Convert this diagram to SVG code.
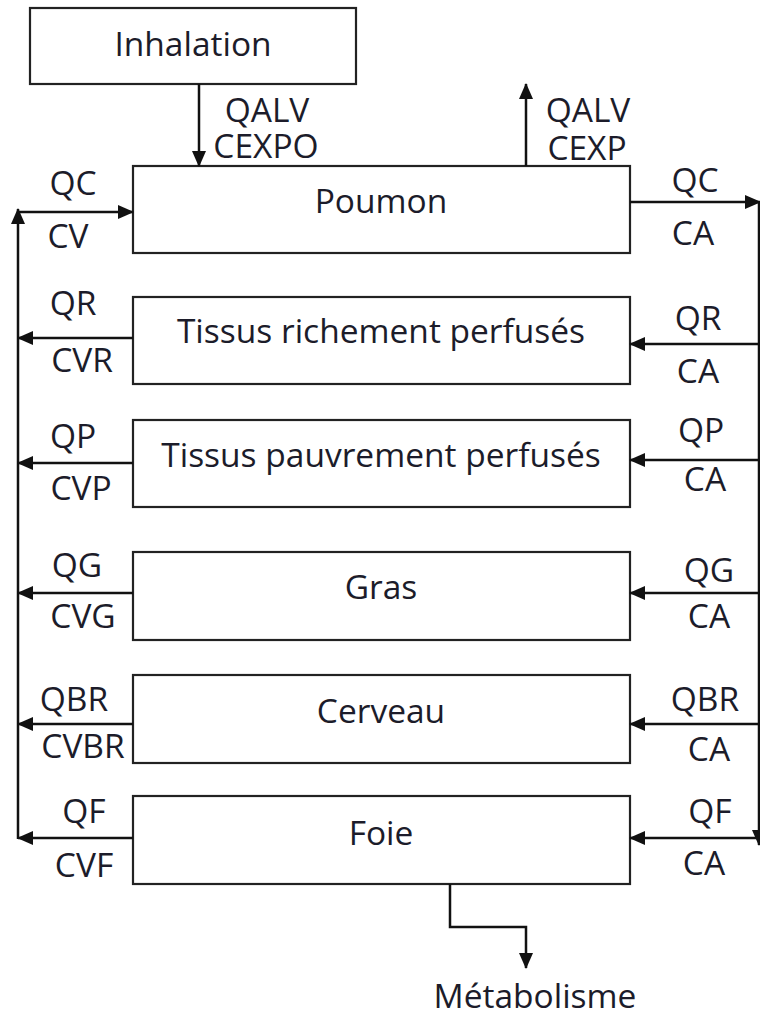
<svg xmlns="http://www.w3.org/2000/svg" width="760" height="1021" viewBox="0 0 760 1021">
  <defs>
    <marker id="arrow" viewBox="0 0 16 14" refX="15" refY="7" markerWidth="16" markerHeight="14" markerUnits="userSpaceOnUse" orient="auto">
      <path d="M0,0 L16,7 L0,14 z" fill="#111"/>
    </marker>
    <style>
      .box { fill: #fff; stroke: #222; stroke-width: 2.2; }
      .wire { fill: none; stroke: #111; stroke-width: 2.5; }
      .arr { marker-end: url(#arrow); }
      text { font-family: "Open Sans", "Noto Sans", "DejaVu Sans", sans-serif; font-size: 33.5px; fill: #1c1c2a; text-anchor: middle; }
    </style>
  </defs>
  <rect width="760" height="1021" fill="#fff"/>

  <!-- compartments -->
  <g id="inhalation">
    <rect class="box" x="30" y="8" width="326" height="76"/>
    <text x="193" y="56">Inhalation</text>
  </g>
  <g id="poumon">
    <rect class="box" x="133" y="166" width="497" height="87"/>
    <text x="381" y="213">Poumon</text>
  </g>
  <g id="tissus-riches">
    <rect class="box" x="133" y="297" width="497" height="87"/>
    <text x="381" y="343">Tissus richement perfusés</text>
  </g>
  <g id="tissus-pauvres">
    <rect class="box" x="133" y="420" width="497" height="87"/>
    <text x="381" y="467">Tissus pauvrement perfusés</text>
  </g>
  <g id="gras">
    <rect class="box" x="133" y="552" width="497" height="88"/>
    <text x="381" y="599">Gras</text>
  </g>
  <g id="cerveau">
    <rect class="box" x="133" y="675" width="497" height="88"/>
    <text x="381" y="723">Cerveau</text>
  </g>
  <g id="foie">
    <rect class="box" x="133" y="796" width="497" height="88"/>
    <text x="381" y="845">Foie</text>
  </g>
  <g id="metabolisme">
    <text x="535" y="1008">Métabolisme</text>
  </g>

  <!-- flows -->
  <g id="connectors">
    <!-- inhaled / exhaled air -->
    <line class="wire arr" x1="199" y1="84" x2="199" y2="166"/>
    <line class="wire arr" x1="526" y1="166" x2="526" y2="84"/>
    <!-- venous return -->
    <line class="wire arr" x1="18" y1="839" x2="18" y2="209"/>
    <line class="wire arr" x1="17" y1="212" x2="133" y2="212"/>
    <line class="wire arr" x1="133" y1="338" x2="18" y2="338"/>
    <line class="wire arr" x1="133" y1="463" x2="18" y2="463"/>
    <line class="wire arr" x1="133" y1="593" x2="18" y2="593"/>
    <line class="wire arr" x1="133" y1="724" x2="18" y2="724"/>
    <line class="wire arr" x1="133" y1="838" x2="18" y2="838"/>
    <!-- arterial supply -->
    <line class="wire arr" x1="630" y1="202" x2="760" y2="202"/>
    <line class="wire arr" x1="759" y1="201" x2="759" y2="845"/>
    <line class="wire arr" x1="760" y1="344" x2="630" y2="344"/>
    <line class="wire arr" x1="760" y1="460" x2="630" y2="460"/>
    <line class="wire arr" x1="760" y1="593" x2="630" y2="593"/>
    <line class="wire arr" x1="760" y1="724" x2="630" y2="724"/>
    <line class="wire arr" x1="760" y1="838" x2="630" y2="838"/>
    <!-- hepatic metabolism -->
    <path class="wire arr" d="M450,884 V927 H526 V968"/>

    <!-- flow labels -->
    <text><tspan x="267" y="122">QALV</tspan><tspan x="266" y="158">CEXPO</tspan></text>
    <text><tspan x="588" y="122">QALV</tspan><tspan x="587" y="160">CEXP</tspan></text>

    <text x="73" y="195">QC</text>
    <text x="68" y="248">CV</text>
    <text x="695" y="192">QC</text>
    <text x="693" y="245">CA</text>

    <text x="73" y="315">QR</text>
    <text x="82" y="372">CVR</text>
    <text x="698" y="330">QR</text>
    <text x="698" y="383">CA</text>

    <text x="73" y="448">QP</text>
    <text x="81" y="500">CVP</text>
    <text x="701" y="442">QP</text>
    <text x="705" y="491">CA</text>

    <text x="77" y="577">QG</text>
    <text x="83" y="628">CVG</text>
    <text x="709" y="582">QG</text>
    <text x="709" y="628">CA</text>

    <text x="74" y="711">QBR</text>
    <text x="83" y="758">CVBR</text>
    <text x="705" y="711">QBR</text>
    <text x="709" y="761">CA</text>

    <text x="84" y="823">QF</text>
    <text x="84" y="877">CVF</text>
    <text x="710" y="823">QF</text>
    <text x="704" y="875">CA</text>
  </g>
</svg>
